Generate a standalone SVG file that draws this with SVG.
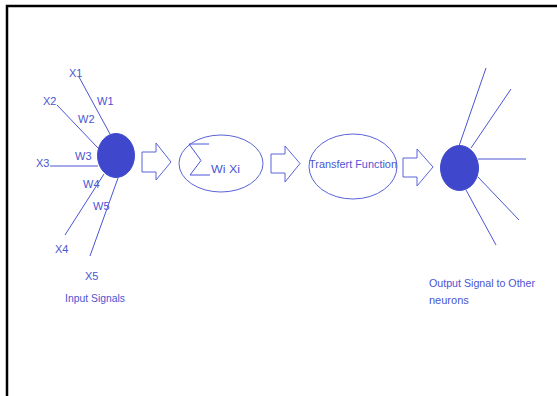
<svg xmlns="http://www.w3.org/2000/svg" width="557" height="396" viewBox="0 0 557 396">
<style>
.bg{fill:#fff}
.frame{fill:none;stroke:#000;stroke-width:2.5}
.ln{stroke:#4a54d4;stroke-width:1;fill:none}
.neuron{fill:#3f48cc;stroke:#3f48cc;stroke-width:1}
.shape{fill:#fff;stroke:#5a63d8;stroke-width:1}
.t{font-family:"Liberation Sans",Arial,sans-serif;font-size:11px;fill:#4b55d2}
</style>
<rect class="bg" width="557" height="396"/>
<rect class="frame" x="7" y="6" width="600" height="450"/>
<g id="connectors">
  <line class="ln" x1="79" y1="77" x2="110" y2="134"/>
  <line class="ln" x1="57" y1="105" x2="98" y2="148"/>
  <line class="ln" x1="50" y1="166" x2="98" y2="166"/>
  <line class="ln" x1="104" y1="174" x2="65" y2="235"/>
  <line class="ln" x1="118" y1="178" x2="90" y2="256"/>
  <line class="ln" x1="459" y1="146" x2="486" y2="68"/>
  <line class="ln" x1="471" y1="148" x2="511" y2="89"/>
  <line class="ln" x1="478" y1="159" x2="526" y2="159"/>
  <line class="ln" x1="478" y1="177" x2="519" y2="220"/>
  <line class="ln" x1="466" y1="190" x2="496" y2="245"/>
  <polygon class="shape" points="142,152 156,152 156,143 171,162 156,180 156,172 142,172"/>
  <polygon class="shape" points="271,154 285,154 285,146 300,163.5 285,182 285,173 271,173"/>
  <polygon class="shape" points="403,158 417,158 417,149 433,167 417,186 417,177 403,177"/>
</g>
<g id="input-neuron">
  <ellipse class="neuron" cx="116" cy="155.5" rx="18.5" ry="22"/>
</g>
<g id="input-labels">
  <text class="t" x="69" y="77">X1</text>
  <text class="t" x="43" y="105">X2</text>
  <text class="t" x="36" y="167">X3</text>
  <text class="t" x="55" y="253">X4</text>
  <text class="t" x="85" y="280">X5</text>
  <text class="t" x="97" y="105">W1</text>
  <text class="t" x="78" y="123">W2</text>
  <text class="t" x="75" y="160">W3</text>
  <text class="t" x="83" y="188">W4</text>
  <text class="t" x="93" y="210">W5</text>
  <text class="t" x="65" y="302" textLength="60" lengthAdjust="spacingAndGlyphs">Input Signals</text>
</g>
<g id="summation">
  <ellipse class="shape" cx="221" cy="163.5" rx="42" ry="28.5"/>
  <polyline class="ln" points="209,144 189,144 201,160.5 190,175 210,175"/>
  <text class="t" x="211" y="173" textLength="29" lengthAdjust="spacingAndGlyphs">Wi Xi</text>
</g>
<g id="transfer-function">
  <ellipse class="shape" cx="353" cy="166.5" rx="44" ry="32.5"/>
  <text class="t" x="309" y="168" textLength="88" lengthAdjust="spacingAndGlyphs">Transfert Function</text>
</g>
<g id="output-neuron">
  <ellipse class="neuron" cx="459.5" cy="168" rx="19" ry="22.5"/>
</g>
<g id="output-label">
  <text class="t" x="429" y="287" textLength="106" lengthAdjust="spacingAndGlyphs">Output Signal to Other</text>
  <text class="t" x="429" y="304">neurons</text>
</g>
</svg>
